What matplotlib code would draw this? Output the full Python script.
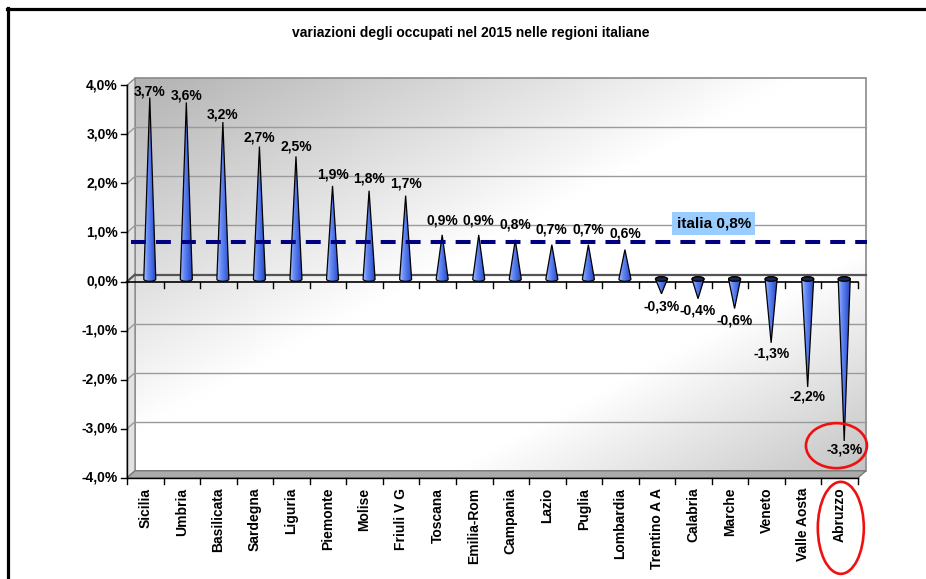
import numpy as np
import matplotlib
matplotlib.use('Agg')
import matplotlib.pyplot as plt
from matplotlib.patches import Polygon, Ellipse
from matplotlib.lines import Line2D
from matplotlib.colors import LinearSegmentedColormap

# ---------------- data ----------------
regions = ['Sicilia', 'Umbria', 'Basilicata', 'Sardegna', 'Liguria', 'Piemonte',
           'Molise', 'Friuli V G', 'Toscana', 'Emilia-Rom', 'Campania', 'Lazio',
           'Puglia', 'Lombardia', 'Trentino A A', 'Calabria', 'Marche', 'Veneto',
           'Valle Aosta', 'Abruzzo']
values = [3.7, 3.6, 3.2, 2.7, 2.5, 1.9, 1.8, 1.7, 0.9, 0.9, 0.8, 0.7, 0.7, 0.6,
          -0.3, -0.4, -0.6, -1.3, -2.2, -3.3]
italia = 0.8
italia_label = 'italia 0,8%'
yticks = [-4, -3, -2, -1, 0, 1, 2, 3, 4]
title = 'variazioni degli occupati nel 2015 nelle regioni italiane'
highlight = 'Abruzzo'


def fmt(v):
    return f"{v:.1f}".replace('.', ',') + '%'


plt.rcParams['font.family'] = ['Liberation Sans', 'DejaVu Sans']
plt.rcParams['font.weight'] = 'bold'

W, H = 926, 579
fig = plt.figure(figsize=(W / 100, H / 100), dpi=100)
fig.patch.set_facecolor('white')

# front plane of the plot in pixels
ax_left, ax_right = 127, 858
ax_top, ax_bot = 85.3, 477.8
ax = fig.add_axes([ax_left / W, (H - ax_bot) / H, (ax_right - ax_left) / W, (ax_bot - ax_top) / H])
ax.axis('off')
n = len(regions)
xmin, xmax = -0.5, n - 0.5
ymin, ymax = yticks[0], yticks[-1]
pxx = (ax_right - ax_left) / (xmax - xmin)   # pixels per category
pxy = (ax_bot - ax_top) / (ymax - ymin)      # pixels per 1%
dxb, dyb = 8 / pxx, 7 / pxy                   # depth offset (back wall)

# ---------- back wall gradient ----------
gw, gh = 300, 150
u = np.linspace(0, 1, gw)[None, :]
v = np.linspace(0, 1, gh)[:, None]
t = (u + v) / 2
g = np.interp(t, [0, 0.45, 0.72, 1.0], [0.70, 1.0, 1.0, 0.77])
bg = np.dstack([g, g, g])
ax.imshow(bg, extent=(xmin + dxb, xmax + dxb, ymin + dyb, ymax + dyb), aspect='auto',
          zorder=0, interpolation='bilinear', clip_on=False)
ax.add_patch(Polygon([(xmin + dxb, ymin + dyb), (xmax + dxb, ymin + dyb), (xmax + dxb, ymax + dyb),
                      (xmin + dxb, ymax + dyb)], closed=True, facecolor='none',
                     edgecolor='#8a8a8a', lw=1.2, zorder=1, clip_on=False))

# left side wall
ax.add_patch(Polygon([(xmin, ymin), (xmin + dxb, ymin + dyb), (xmin + dxb, ymax + dyb), (xmin, ymax)],
                     closed=True, facecolor='#e2e2e2', edgecolor='#8a8a8a', lw=1, zorder=1,
                     clip_on=False))
# floor
ax.add_patch(Polygon([(xmin, ymin), (xmax, ymin), (xmax + dxb, ymin + dyb), (xmin + dxb, ymin + dyb)],
                     closed=True, facecolor='#ababab', edgecolor='#7a7a7a', lw=1, zorder=1,
                     clip_on=False))

# gridlines
for yv in yticks[1:-1]:
    col = '#555555' if yv == 0 else '#9a9a9a'
    lw = 1.6 if yv == 0 else 1.0
    ax.plot([xmin + dxb, xmax + dxb], [yv + dyb, yv + dyb], color=col, lw=lw, zorder=1.5,
            clip_on=False)
    ax.plot([xmin, xmin + dxb], [yv, yv + dyb], color=col, lw=lw, zorder=1.5, clip_on=False)

# front y-axis and ticks / labels
ax.plot([xmin, xmin], [ymin, ymax], color='black', lw=1, zorder=2, clip_on=False)
for yv in yticks:
    ax.plot([xmin - 6 / pxx, xmin], [yv, yv], color='black', lw=1, zorder=2, clip_on=False)
    ax.annotate(fmt(yv), (xmin, yv), xytext=(-9, 0), textcoords='offset pixels',
                ha='right', va='center', fontsize=10, fontweight='bold', annotation_clip=False)

# x axis at zero with ticks
ax.plot([xmin, xmax], [0, 0], color='black', lw=1.2, zorder=2, clip_on=False)
for k in range(1, n + 1):
    ax.plot([xmin + k, xmin + k], [0, -6 / pxy], color='black', lw=1, zorder=2, clip_on=False)
# bottom front edge with ticks
ax.plot([xmin, xmax], [ymin, ymin], color='black', lw=1, zorder=2, clip_on=False)
for k in range(0, n + 1):
    ax.plot([xmin + k, xmin + k], [ymin, ymin - 6 / pxy], color='black', lw=1, zorder=2,
            clip_on=False)

# ---------- cones ----------
cone_cmap = LinearSegmentedColormap.from_list(
    'cone', [(0, '#a8c0ff'), (0.3, '#6a8ef5'), (0.7, '#4166e0'), (1, '#2a45b0')])
grad = np.linspace(0, 1, 60)[None, :]
hw = 6 / pxx
eh = 4.5 / pxy
cdx = 4.5 / pxx
cdy = 2.5 / pxy


def cone(cx, base, tip, z=3):
    m = 40
    if tip >= base:
        th = np.linspace(np.pi, 2 * np.pi, m)
    else:
        th = np.linspace(np.pi, 0, m)
    ex = cx + hw * np.cos(th)
    ey = base + eh / 2 * np.sin(th)
    pts = np.column_stack([np.r_[ex, cx], np.r_[ey, tip]])
    poly = Polygon(pts, closed=True, facecolor='none', edgecolor='black', lw=0.9, zorder=z + 0.1)
    ax.add_patch(poly)
    lo = min(tip, base - eh)
    hi = max(tip, base + eh)
    im = ax.imshow(grad, extent=(cx - hw, cx + hw, lo, hi), aspect='auto', cmap=cone_cmap,
                   zorder=z, interpolation='bilinear')
    im.set_clip_path(poly)
    if tip < base:
        ax.add_patch(Ellipse((cx, base), 2 * hw, eh, facecolor='#1e2548', edgecolor='black',
                             lw=0.9, zorder=z + 0.2))


for i, val in enumerate(values):
    cx = i + cdx
    base = cdy
    tip = val + 2.5 / pxy
    cone(cx, base, tip)
    # label placement (Excel 3D projection of data labels)
    if val >= 0:
        off = 19.9 - 2.96 * val
    else:
        off = -(10.2 + 1.36 * val)
    ax.annotate(fmt(val), (cx, val), xytext=(0, off), textcoords='offset pixels',
                ha='center', va='center', fontsize=10, fontweight='bold', zorder=6,
                annotation_clip=False)

# category labels
for i, name in enumerate(regions):
    ax.annotate(name, (i, ymin), xytext=(0, -10), textcoords='offset pixels', rotation=90,
                ha='center', va='top', fontsize=10, fontweight='bold', annotation_clip=False)

# italia line
ax.plot([xmin + 4 / pxx, xmax + 9 / pxx], [italia, italia], color='#000080', lw=2.9,
        linestyle=(0, (3.7, 2.5)), dash_capstyle='butt', zorder=5, clip_on=False)
ax.text(15.55, italia + 0.38, italia_label, ha='center', va='center', fontsize=11,
        fontweight='bold', zorder=6,
        bbox=dict(boxstyle='square,pad=0.3', facecolor='#99ccff', edgecolor='none'))

# red highlight ellipses
hi_i = regions.index(highlight)
hv = values[hi_i]
ax.add_patch(Ellipse((hi_i - 0.09, hv - 0.045), 61 / pxx, 45 / pxy, facecolor='none',
                     edgecolor='#ee1111', lw=1.9, zorder=7, clip_on=False))
ax.add_patch(Ellipse((hi_i + 0.03, ymin - 1.02), 46 / pxx, 92 / pxy, facecolor='none',
                     edgecolor='#ee1111', lw=1.9, zorder=7, clip_on=False))

ax.set_xlim(xmin, xmax)
ax.set_ylim(ymin, ymax)

# title
fig.text(471 / W, 1 - 33 / H, title, ha='center', va='center', fontsize=10, fontweight='bold')

# outer frame (left and top edges)
fig.add_artist(Line2D([7.5 / W, 7.5 / W], [0, 1 - 8 / H], transform=fig.transFigure,
                      color='black', lw=2.3))
fig.add_artist(Line2D([6.5 / W, 1], [1 - 9 / H, 1 - 9 / H], transform=fig.transFigure,
                      color='black', lw=2.3))

fig.savefig('out.png', dpi=100)
